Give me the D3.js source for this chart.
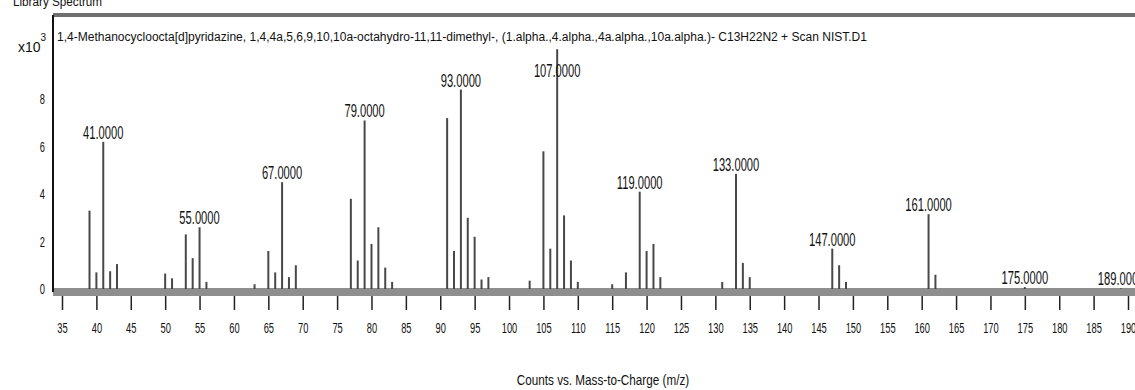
<!DOCTYPE html>
<html>
<head>
<meta charset="utf-8">
<script src="https://cdn.jsdelivr.net/npm/d3@7"></script>
<style>
  body { margin: 0; background: #fff; }
  text { font-family: "Liberation Sans", Arial, sans-serif; fill: #111; }
</style>
</head>
<body>
<figure id="spec" style="margin:0"></figure>
<script>
// peaks (m/z) and counts
const mzValues = [39, 40, 41, 42, 43, 50, 51, 53, 54, 55, 56, 63, 65, 66, 67, 68, 69,
  77, 78, 79, 80, 81, 82, 83, 91, 92, 93, 94, 95, 96, 97, 103, 105, 106, 107, 108, 109, 110,
  115, 117, 119, 120, 121, 122, 131, 133, 134, 135, 147, 148, 149, 161, 162, 175, 189];
const counts = [3300, 700, 6200, 750, 1050, 650, 450, 2300, 1300, 2600, 300, 200, 1600, 700, 4500, 500, 1000,
  3800, 1200, 7100, 1900, 2600, 900, 300, 7200, 1600, 8400, 3000, 2200, 400, 500, 350, 5800, 1700, 10100, 3100, 1200, 300,
  200, 700, 4100, 1600, 1900, 500, 300, 4850, 1100, 500, 1700, 1000, 300, 3150, 600, 80, 30];
const labeledPeaks = [41, 55, 67, 79, 93, 107, 119, 133, 147, 161, 175, 189];
const xTicks = d3.range(35, 191, 5);
const yTicks = [0, 2000, 4000, 6000, 8000];

const title = "1,4-Methanocycloocta[d]pyridazine, 1,4,4a,5,6,9,10,10a-octahydro-11,11-dimethyl-, (1.alpha.,4.alpha.,4a.alpha.,10a.alpha.)- C13H22N2 + Scan NIST.D1";
const xTitle = "Counts vs. Mass-to-Charge (m/z)";

const width = 1135, height = 390;
const plotLeft = 53, plotRight = 1135, plotTop = 15, base = 289;

const peaks = mzValues.map((m, i) => ({ mz: m, v: counts[i] }));

// squash text horizontally, the source font is very narrow
function squeeze(sel, f) {
  sel.each(function () {
    this.setAttribute("textLength", this.getComputedTextLength() * f);
    this.setAttribute("lengthAdjust", "spacingAndGlyphs");
  });
}

const svg = d3.select("figure#spec")
  .append("svg")
  .attr("width", width)
  .attr("height", height);

const x = d3.scaleLinear().domain([35, 190]).range([62, 1128]);
const y = d3.scaleLinear().domain([0, 10700]).range([base, 35]);

// header text, cut at top like the source
svg.append("text")
  .attr("x", 13).attr("y", 6)
  .style("font-size", "13px")
  .text("Library Spectrum")
  .call(squeeze, 0.9);

// frame top
svg.append("line")
  .attr("x1", plotLeft).attr("x2", plotRight)
  .attr("y1", plotTop).attr("y2", plotTop)
  .attr("stroke", "#707070").attr("stroke-width", 4);

svg.append("text")
  .attr("x", 57).attr("y", 41)
  .style("font-size", "12px")
  .attr("textLength", 810)
  .attr("lengthAdjust", "spacingAndGlyphs")
  .text(title);

// x10^3
const mult = svg.append("text").attr("x", 18).attr("y", 52).style("font-size", "14px");
mult.append("tspan").text("x10");
mult.append("tspan").attr("dy", -11).style("font-size", "10px").text("3");

// x axis: thick gray band + ticks below it
svg.append("rect")
  .attr("x", plotLeft).attr("y", base - 1)
  .attr("width", plotRight - plotLeft).attr("height", 8)
  .attr("fill", "#8e8e8e");

const xAxis = svg.append("g")
  .attr("transform", "translate(0," + (base + 7) + ")")
  .call(d3.axisBottom(x).tickValues(xTicks).tickSize(14).tickPadding(12));
xAxis.select(".domain").remove();
xAxis.selectAll(".tick line").attr("stroke", "#222").attr("stroke-width", 1.5);
xAxis.selectAll(".tick text")
  .style("font-size", "15px")
  .attr("fill", "#111")
  .call(squeeze, 0.62);

// y axis
const yAxis = svg.append("g")
  .attr("transform", "translate(" + plotLeft + ",0)")
  .call(d3.axisLeft(y).tickValues(yTicks).tickSize(0).tickPadding(8).tickFormat(d => d / 1000));
yAxis.select(".domain").remove();
yAxis.selectAll(".tick text")
  .style("font-size", "15px")
  .attr("fill", "#111")
  .call(squeeze, 0.62);

svg.append("line")
  .attr("x1", plotLeft).attr("x2", plotLeft)
  .attr("y1", plotTop).attr("y2", base + 3)
  .attr("stroke", "#111").attr("stroke-width", 2);

// sticks
svg.selectAll("line.peak")
  .data(peaks)
  .enter()
  .append("line")
  .attr("class", "peak")
  .attr("x1", d => x(d.mz)).attr("x2", d => x(d.mz))
  .attr("y1", base).attr("y2", d => y(d.v))
  .attr("stroke", "#484848")
  .attr("stroke-width", 2);

// peak labels
svg.selectAll("text.plabel")
  .data(peaks.filter(d => labeledPeaks.includes(d.mz)))
  .enter()
  .append("text")
  .attr("class", "plabel")
  .attr("x", d => x(d.mz))
  .attr("y", d => Math.max(y(d.v) - 3, 77))
  .attr("text-anchor", "middle")
  .style("font-size", "18px")
  .text(d => d.mz.toFixed(4))
  .call(squeeze, 0.62);

svg.append("text")
  .attr("x", 603).attr("y", 385)
  .attr("text-anchor", "middle")
  .style("font-size", "15px")
  .text(xTitle)
  .call(squeeze, 0.78);
</script>
</body>
</html>
